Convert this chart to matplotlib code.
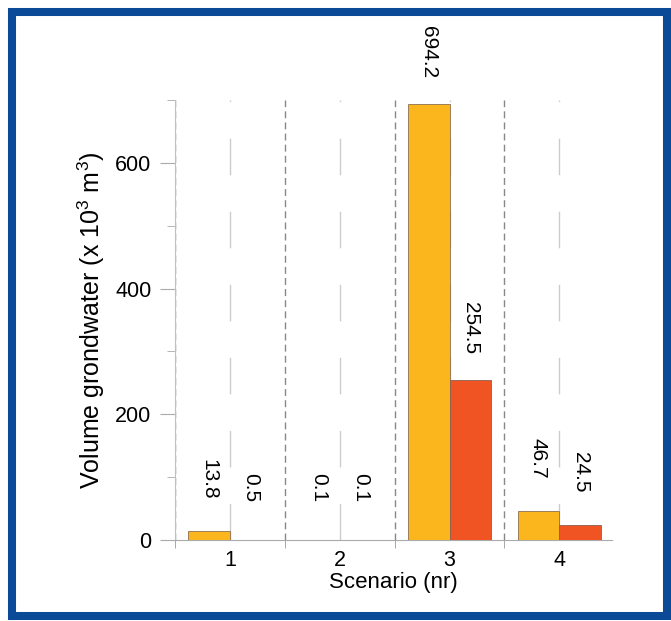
import matplotlib
matplotlib.use("Agg")
import matplotlib.pyplot as plt
from matplotlib.patches import Rectangle
import numpy as np

plt.rcParams['font.family'] = ['Liberation Sans', 'DejaVu Sans']
plt.rcParams['mathtext.default'] = 'regular'

scenarios = [1, 2, 3, 4]
volume_a = [13.8, 0.1, 694.2, 46.7]
volume_b = [0.5, 0.1, 254.5, 24.5]
labels_a = ["13.8", "0.1", "694.2", "46.7"]
labels_b = ["0.5", "0.1", "254.5", "24.5"]

yellow = "#FBB61E"
orange = "#F05423"
bar_w = 0.38

fig = plt.figure(figsize=(6.71, 6.21), dpi=100)
ax = fig.add_axes([0.2608, 0.1304, 0.6513, 0.7085])

x = np.array(scenarios, dtype=float)
bars_a = ax.bar(x - bar_w / 2, volume_a, bar_w, color=yellow, edgecolor="#8c7050", linewidth=0.6, zorder=3)
bars_b = ax.bar(x + bar_w / 2, volume_b, bar_w, color=orange, edgecolor="#8c6050", linewidth=0.6, zorder=3)

# value labels, rotated, centred about 52 px above each bar
for bars, labs in [(bars_a, labels_a), (bars_b, labels_b)]:
    for b, lab in zip(bars, labs):
        ax.annotate(lab, (b.get_x() + b.get_width() / 2, b.get_height()),
                    xytext=(0, 37.5), textcoords="offset points",
                    rotation=270, ha="center", va="center", fontsize=15,
                    annotation_clip=False)

ax.set_xlim(0.5, 4.48)
ax.set_ylim(0, 700)

ax.set_xticks(scenarios)
ax.set_xticks([0.5, 1.5, 2.5, 3.5], minor=True)
ax.set_yticks([0, 200, 400, 600])
ax.set_yticks([100, 300, 500, 700], minor=True)

ax.tick_params(axis="y", which="major", length=11, color="#aaaaaa", labelsize=15.5, pad=6)
ax.tick_params(axis="y", which="minor", length=5.5, color="#aaaaaa")
ax.tick_params(axis="x", which="major", length=0, labelsize=15.5, pad=7)
ax.tick_params(axis="x", which="minor", length=5.5, color="#999999")

# long dashed light lines at the scenario centres, short dashed separators
ax.grid(True, which="major", axis="x", color="#cccccc", linewidth=1, linestyle=(0, (26.3, 26.3)), zorder=0)
ax.grid(True, which="minor", axis="x", color="#888888", linewidth=1, linestyle=(0, (5, 3)), zorder=0)

for s in ["top", "right"]:
    ax.spines[s].set_visible(False)
ax.spines["left"].set_color("#c0c0c0")
ax.spines["bottom"].set_color("#aaaaaa")

ax.set_xlabel("Scenario (nr)", fontsize=16, labelpad=1)
ax.set_ylabel("Volume grondwater (x 10$^3$ m$^3$)", fontsize=18, labelpad=6)

# blue frame around the figure
fig.patches.append(Rectangle((0.0179, 0.00725), 0.994 - 0.0179, 0.9807 - 0.00725,
                             transform=fig.transFigure, fill=False,
                             edgecolor="#0b4a96", linewidth=5.8))

fig.savefig("out.png", dpi=100)
